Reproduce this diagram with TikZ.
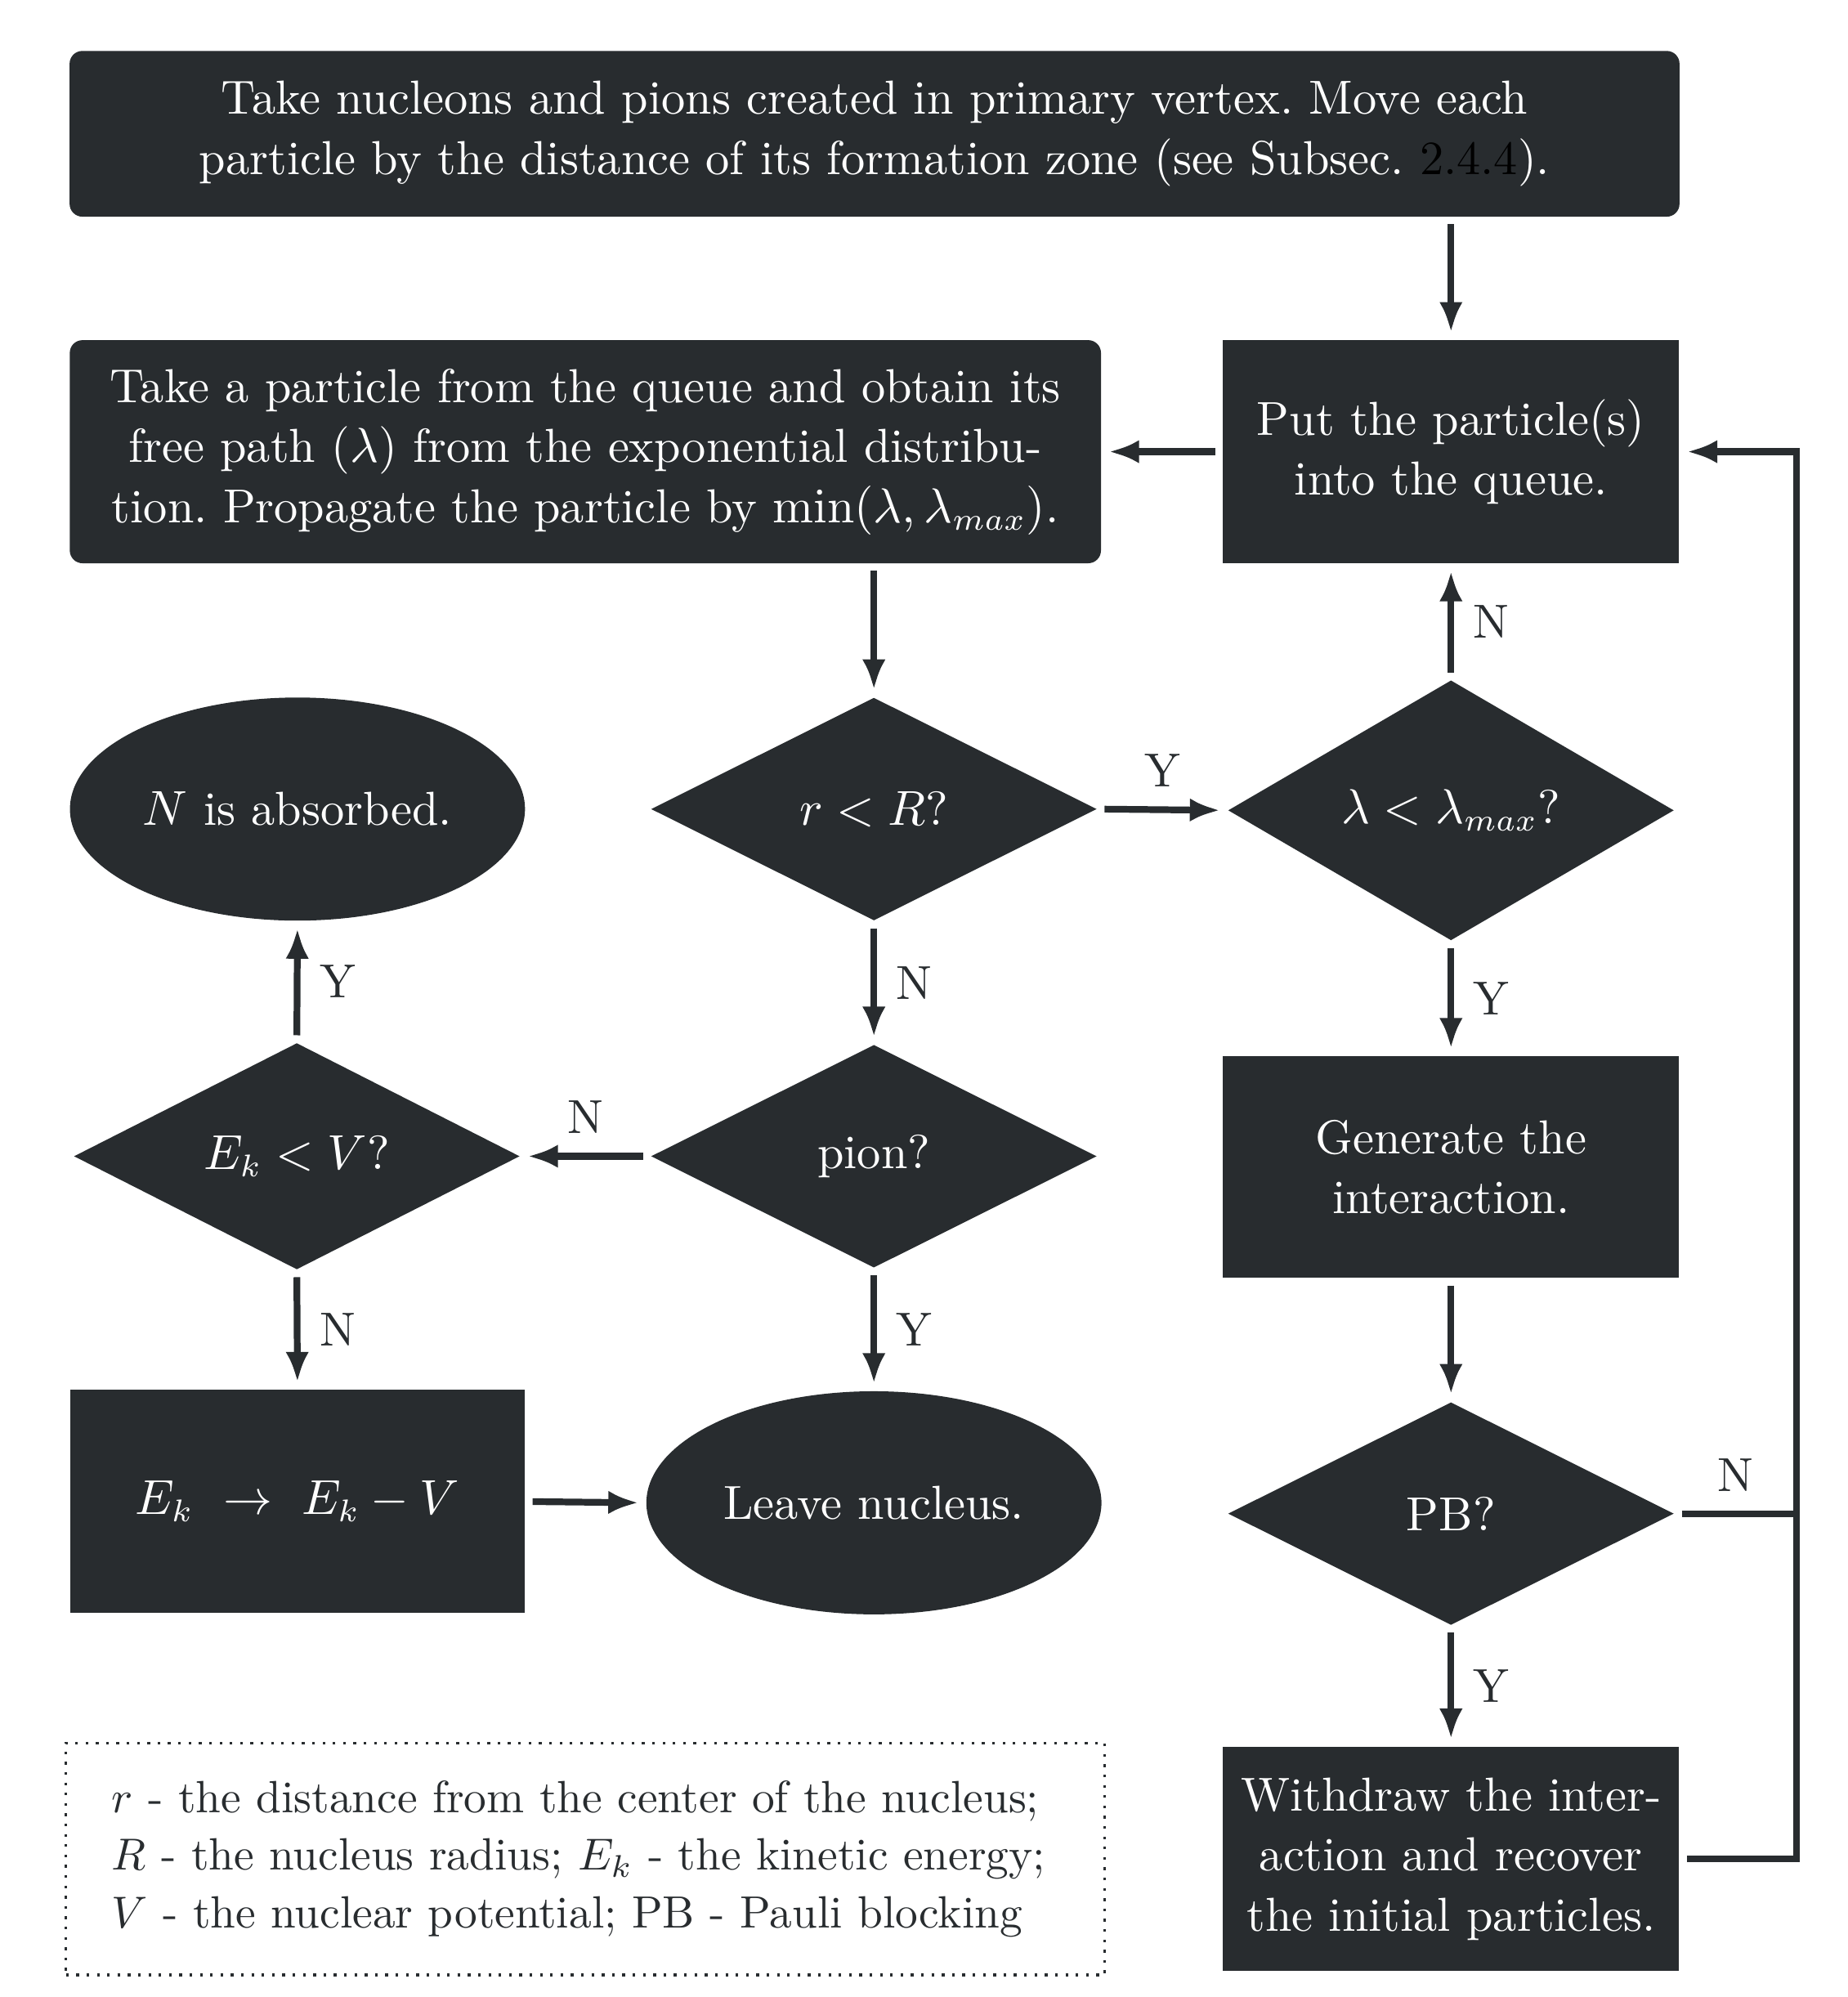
\documentclass[tikz,border=0pt]{standalone}
\usetikzlibrary{shapes.geometric,arrows.meta}
\definecolor{dk}{RGB}{40,44,47}
\frenchspacing
\begin{document}
\begin{tikzpicture}[x=0.01cm,y=-0.01cm,
  font=\fontsize{10.65}{13.4}\selectfont,
  box/.style={rectangle, fill=dk, text=white, align=center, inner sep=0pt},
  dia/.style={diamond, fill=dk, text=white, inner sep=0pt, minimum width=3.5cm, minimum height=1.75cm},
  ell/.style={ellipse, fill=dk, text=white, inner sep=0pt, minimum width=3.57cm, minimum height=1.75cm},
  arr/.style={draw=dk, line width=1.5pt, -{Latex[length=6.8pt,width=5.2pt]}, shorten >=1.5pt, shorten <=1.5pt},
  ln/.style={draw=dk, line width=1.5pt, shorten <=1.5pt},
  lbl/.style={text=dk, inner sep=4.3pt}]
\useasboundingbox (0,0) rectangle (1450,1567.4);

\node[box, rounded corners=0.1cm, minimum width=12.63cm, minimum height=1.30cm] (top) at (686.5,105)
  {Take nucleons and pions created in primary vertex. Move each\\particle by the distance of its formation zone (see Subsec. {\color{black}2.4.4}).};
\node[box, minimum width=3.58cm, minimum height=1.75cm] (queue) at (1139,354.5) {Put the particle(s)\\into the queue.};
\node[box, rounded corners=0.1cm, minimum width=8.09cm, minimum height=1.75cm] (take) at (459.5,354.5)
  {Take a particle from the queue and obtain its\\free path ($\lambda$) from the exponential distribu-\\tion. Propagate the particle by $\min(\lambda,\lambda_{max})$.};
\node[dia] (rR) at (686,635) {$r<R$?};
\node[dia, minimum height=1.9cm] (lam) at (1139,636) {$\lambda<\lambda_{max}$?};
\node[ell] (abs) at (233.5,635) {$N$ is absorbed.};
\node[dia] (pion) at (686,907.5) {pion?};
\node[dia] (EkV) at (233,907.5) {$E_k<V$?};
\node[box, minimum width=3.58cm, minimum height=1.74cm] (gen) at (1139,916) {Generate the\\interaction.};
\node[dia] (PB) at (1139,1188) {PB?};
\node[box, minimum width=3.57cm, minimum height=1.75cm] (sub) at (233.5,1178.5) {$E_k\ \rightarrow\ E_k-V$};
\node[ell] (leave) at (686,1179.5) {Leave nucleus.};
\node[box, minimum width=3.58cm, minimum height=1.76cm] (wd) at (1139,1459) {Withdraw the inter-\\action and recover\\the initial particles.};
\node[draw=dk, line width=0.6pt, dash pattern=on 0.6pt off 1.7pt, text=dk, align=left,
  font=\fontsize{10.1}{12.8}\selectfont,
  text width=7.43cm, inner xsep=0.36cm, inner ysep=0pt,
  minimum height=1.82cm] (leg) at (459.5,1459)
  {$r$ - the distance from the center of the nucleus;\\$R$ - the nucleus radius; $E_k$ - the kinetic energy;\\$V$ - the nuclear potential; PB - Pauli blocking};

\coordinate (rt) at (1410,0);

\draw[arr] (top.south -| queue) -- (queue.north);
\draw[arr] (queue.west) -- (take.east);
\draw[arr] (take.south -| rR) -- (rR.north);
\draw[arr] (rR.east) -- node[lbl, above]{Y} (lam.west);
\draw[arr] (lam.north) -- node[lbl, right]{N} (queue.south);
\draw[arr] (lam.south) -- node[lbl, right]{Y} (gen.north);
\draw[arr] (gen.south) -- (PB.north);
\draw[arr] (PB.south) -- node[lbl, right]{Y} (wd.north);
\draw[arr] (rR.south) -- node[lbl, right]{N} (pion.north);
\draw[arr] (pion.west) -- node[lbl, above]{N} (EkV.east);
\draw[arr] (EkV.north) -- node[lbl, right]{Y} (abs.south);
\draw[arr] (EkV.south) -- node[lbl, right]{N} (sub.north);
\draw[arr] (pion.south) -- node[lbl, right]{Y} (leave.north);
\draw[arr] (sub.east) -- (leave.west);
\draw[ln] (PB.east) -- node[lbl, above]{N} (PB.east -| rt);
\draw[arr] (wd.east) -- (wd.east -| rt) -- (queue.east -| rt) -- (queue.east);
\end{tikzpicture}
\end{document}
